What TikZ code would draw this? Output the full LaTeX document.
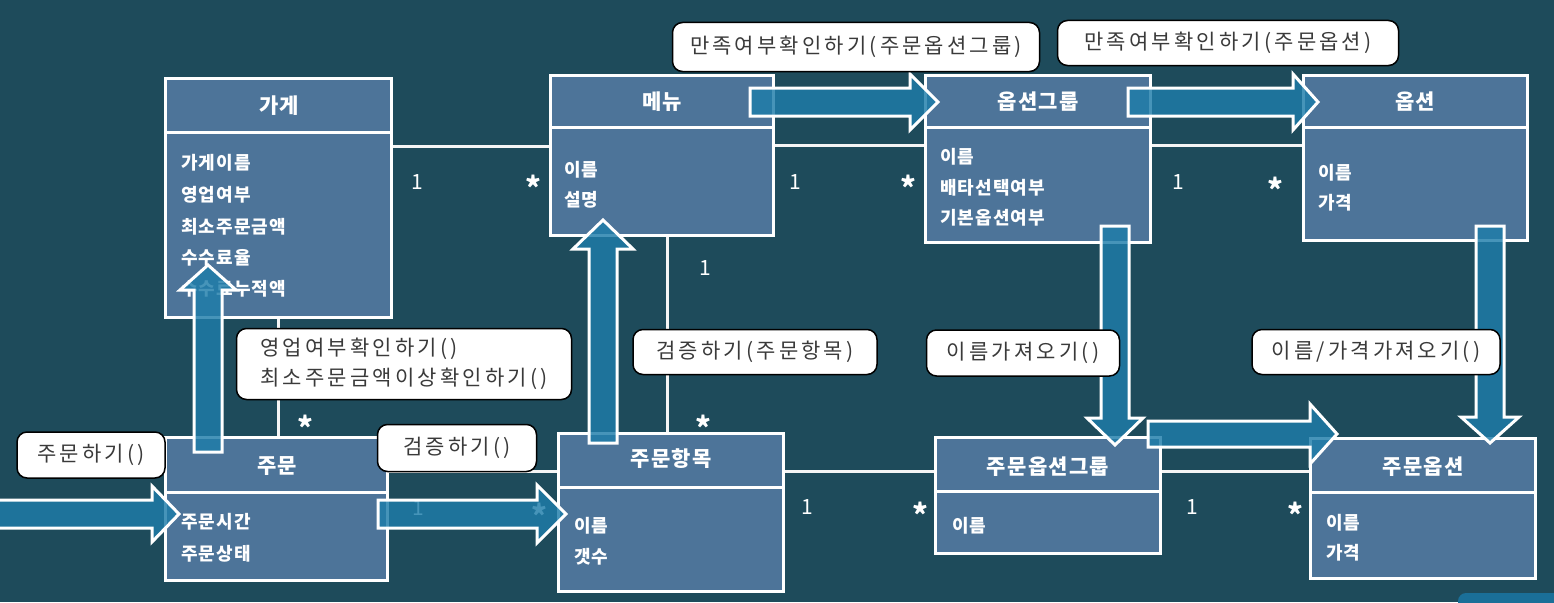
\documentclass[tikz,border=0pt]{standalone}
\usepackage{fontspec}
\setmainfont{Noto Sans CJK KR}
\newfontfamily\lblfont{Noto Sans CJK KR}[LetterSpace=15]
\newfontfamily\boxfont{Noto Sans CJK KR}[LetterSpace=6]
\usetikzlibrary{calc}
\pgfdeclarelayer{back}
\pgfsetlayers{back,main}
\definecolor{bg}{HTML}{1E4B5B}
\definecolor{boxfill}{HTML}{4D7499}
\definecolor{arrfill}{HTML}{1E7DAA}
\definecolor{lbltext}{HTML}{3A3A3A}
\definecolor{corner}{HTML}{1A6F98}
\tikzset{
 classbox/.style={draw=white, line width=3pt, fill=boxfill, anchor=north west, inner sep=0pt, outer sep=0pt},
 divider/.style={draw=white, line width=3pt},
 assoc/.style={draw=white!92!gray, line width=3pt},
 headtxt/.style={text=white, font=\boxfont\bfseries\fontsize{21}{24}\selectfont, inner sep=0pt},
 attrtxt/.style={text=white, font=\boxfont\bfseries\fontsize{18}{20}\selectfont, inner sep=0pt, anchor=west},
 mult/.style={text=white, font=\fontsize{21}{24}\selectfont, inner sep=0pt},
 star/.style={text=white, font=\bfseries\fontsize{30}{32}\selectfont, inner sep=0pt},
 msg/.style={draw=black, line width=1.5pt, fill=white, rounded corners=10pt, text=lbltext,
   font=\lblfont\fontsize{21}{30}\selectfont, inner xsep=10pt, inner ysep=0pt, align=left},
 blockarrow/.style={draw=white, line width=3pt, fill=arrfill, fill opacity=0.82, line join=miter},
}
% horizontal block arrow: x1, xhead, xtip, yc, shaft half, head half
\newcommand\blkH[6]{%
 \draw[blockarrow] (#1,#4-#5) -- (#2,#4-#5) -- (#2,#4-#6) -- (#3,#4) -- (#2,#4+#6) -- (#2,#4+#5) -- (#1,#4+#5) -- cycle;}
% vertical block arrow: y1, yhead, ytip, xc, shaft half, head half
\newcommand\blkV[6]{%
 \draw[blockarrow] (#4-#5,#1) -- (#4-#5,#2) -- (#4-#6,#2) -- (#4,#3) -- (#4+#6,#2) -- (#4+#5,#2) -- (#4+#5,#1) -- cycle;}
\begin{document}
\begin{tikzpicture}[x=1pt,y=-1pt]
\useasboundingbox (0,0) rectangle (1554,602);
\clip (0,0) rectangle (1554,602);
\begin{pgfonlayer}{back}
\fill[bg] (0,0) rectangle (1554,602);
\end{pgfonlayer}

% ---------- class boxes ----------
\node[classbox, minimum width=226pt, minimum height=239pt] (gage) at (165,78) {};
\node[classbox, minimum width=223pt, minimum height=160pt] (menu) at (550,75) {};
\node[classbox, minimum width=225pt, minimum height=167pt] (og) at (925,75) {};
\node[classbox, minimum width=224pt, minimum height=165pt] (opt) at (1303,75) {};
\node[classbox, minimum width=222pt, minimum height=143pt] (order) at (165,437) {};
\node[classbox, minimum width=225pt, minimum height=158pt] (item) at (558,433) {};
\node[classbox, minimum width=225pt, minimum height=116pt] (oog) at (935,437) {};
\node[classbox, minimum width=225pt, minimum height=140pt] (oopt) at (1310,438) {};

% dividers
\draw[divider] (gage.west |- 0,132) -- (gage.east |- 0,132);
\draw[divider] (menu.west |- 0,127) -- (menu.east |- 0,127);
\draw[divider] (og.west |- 0,127) -- (og.east |- 0,127);
\draw[divider] (opt.west |- 0,127) -- (opt.east |- 0,127);
\draw[divider] (order.west |- 0,492) -- (order.east |- 0,492);
\draw[divider] (item.west |- 0,487) -- (item.east |- 0,487);
\draw[divider] (oog.west |- 0,491) -- (oog.east |- 0,491);
\draw[divider] (oopt.west |- 0,492) -- (oopt.east |- 0,492);

% ---------- associations (behind boxes) ----------
\begin{pgfonlayer}{back}
\draw[assoc] (gage.east |- 0,146) -- (menu.west |- 0,146);
\draw[assoc] (menu.east |- 0,145) -- (og.west |- 0,145);
\draw[assoc] (og.east |- 0,145) -- (opt.west |- 0,145);
\draw[assoc] (gage.south -| 278,0) -- (order.north -| 278,0);
\draw[assoc] (menu.south -| 667,0) -- (item.north -| 667,0);
\draw[assoc] (order.east |- 0,471) -- (item.west |- 0,471);
\draw[assoc] (item.east |- 0,471) -- (oog.west |- 0,471);
\draw[assoc] (oog.east |- 0,471) -- (oopt.west |- 0,471);
\end{pgfonlayer}

% ---------- headers ----------
\node[headtxt] (gageT) at (279,106) {가게};
\node[headtxt] (menuT) at (662,102) {메뉴};
\node[headtxt] (ogT) at (1038,102) {옵션그룹};
\node[headtxt] (optT) at (1415,102) {옵션};
\node[headtxt] (orderT) at (277,466) {주문};
\node[headtxt] (itemT) at (671,459) {주문항목};
\node[headtxt] (oogT) at (1048,467) {주문옵션그룹};
\node[headtxt] (ooptT) at (1423,467) {주문옵션};

% ---------- attributes ----------
\node[attrtxt] (g1) at (181,163) {가게이름};
\node[attrtxt] (g2) at (181,195) {영업여부};
\node[attrtxt] (g3) at (181,227) {최소주문금액};
\node[attrtxt] (g4) at (181,258) {수수료율};
\node[attrtxt] (g5) at (181,289) {수수료누적액};
\node[attrtxt] (m1) at (564,170) {이름};
\node[attrtxt] (m2) at (564,200) {설명};
\node[attrtxt] (og1) at (940,157) {이름};
\node[attrtxt] (og2) at (940,188) {배타선택여부};
\node[attrtxt] (og3) at (940,218) {기본옵션여부};
\node[attrtxt] (op1) at (1318,173) {이름};
\node[attrtxt] (op2) at (1318,203) {가격};
\node[attrtxt] (o1) at (181,522) {주문시간};
\node[attrtxt] (o2) at (181,554) {주문상태};
\node[attrtxt] (i1) at (574,526) {이름};
\node[attrtxt] (i2) at (574,557) {갯수};
\node[attrtxt] (oog1) at (952,526) {이름};
\node[attrtxt] (oo1) at (1326,523) {이름};
\node[attrtxt] (oo2) at (1326,553) {가격};

% ---------- multiplicities ----------
\node[mult] (a1) at (417,182) {1};
\node[star] (a2) at (533,187) {*};
\node[mult] (b1) at (795,182) {1};
\node[star] (b2) at (908,187) {*};
\node[mult] (c1) at (1178,182) {1};
\node[star] (c2) at (1275,189) {*};
\node[mult] (d1) at (705,268) {1};
\node[star] (d2) at (703,427) {*};
\node[star] (e2) at (305,427) {*};
\node[mult] (f1) at (418,508) {1};
\node[star] (f2) at (539,515) {*};
\node[mult] (h1) at (807,507) {1};
\node[star] (h2) at (920,514) {*};
\node[mult] (k1) at (1192,507) {1};
\node[star] (k2) at (1295,514) {*};

% ---------- block arrows ----------
\blkH{-10}{152}{179}{514}{14}{28}
\blkH{378}{537}{566}{514}{14}{29}
\blkV{452}{290}{265}{208}{14}{28}
\blkV{443}{249}{220}{603}{14}{30}
\blkH{750}{910}{938}{102}{14}{28}
\blkH{1128}{1293}{1318}{102}{14}{28}
\blkV{226}{418}{445}{1115}{14}{28}
\blkH{1148}{1310}{1337}{434}{13}{30}
\blkV{226}{417}{443}{1490}{14}{29}

% ---------- message labels ----------
\node[msg, minimum width=367pt, minimum height=49pt] (L1) at (856,47) {만족여부확인하기(주문옵션그룹)};
\node[msg, minimum width=341pt, minimum height=45pt] (L2) at (1228,43) {만족여부확인하기(주문옵션)};
\node[msg, minimum width=335pt, minimum height=71pt] (L3) at (404,364) {영업여부확인하기()\\최소주문금액이상확인하기()};
\node[msg, minimum width=148pt, minimum height=46pt] (L4) at (91,455) {주문하기()};
\node[msg, minimum width=159pt, minimum height=47pt] (L5) at (457,448) {검증하기()};
\node[msg, minimum width=244pt, minimum height=45pt] (L6) at (755,352) {검증하기(주문항목)};
\node[msg, minimum width=193pt, minimum height=46pt] (L7) at (1023,353) {이름가져오기()};
\node[msg, minimum width=248pt, minimum height=45pt] (L8) at (1376,352) {이름/가격가져오기()};

% corner element
\fill[corner, rounded corners=8pt] (1458,593) rectangle (1580,630);
\end{tikzpicture}
\end{document}
